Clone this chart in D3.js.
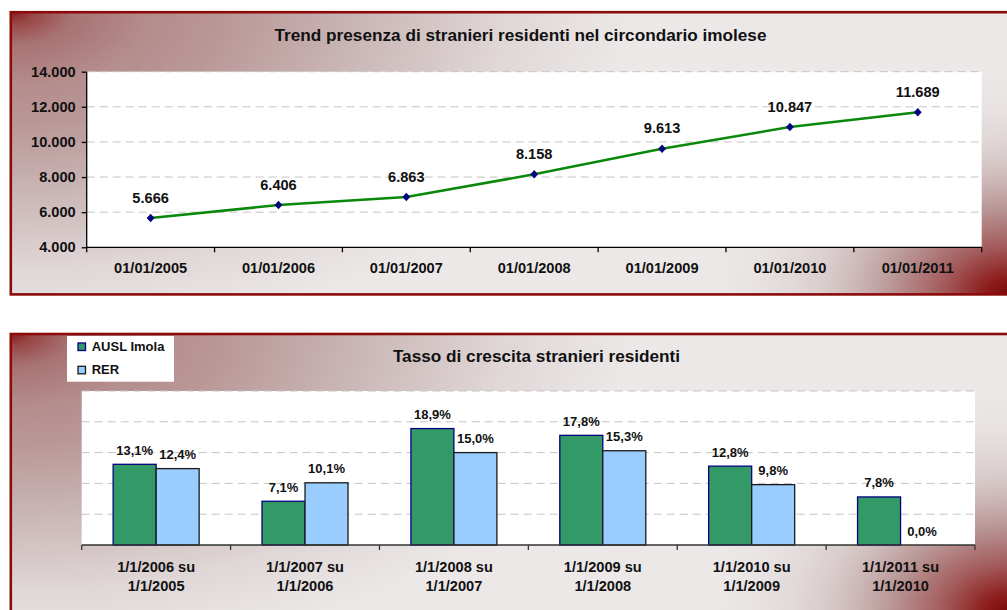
<!DOCTYPE html>
<html>
<head>
<meta charset="utf-8">
<script src="https://cdn.jsdelivr.net/npm/d3@7"></script>
<style>
  html, body { margin: 0; padding: 0; background: #ffffff; }
  svg { display: block; }
  text { font-family: "Liberation Sans", Arial, sans-serif; font-weight: bold; fill: #111; }
</style>
</head>
<body>
<script>
// ---- Data ----
const dates = ["01/01/2005", "01/01/2006", "01/01/2007", "01/01/2008", "01/01/2009", "01/01/2010", "01/01/2011"];
const residents = [5666, 6406, 6863, 8158, 9613, 10847, 11689];
const residentTicks = [4000, 6000, 8000, 10000, 12000, 14000];

const periods = [
  ["1/1/2006 su", "1/1/2005"],
  ["1/1/2007 su", "1/1/2006"],
  ["1/1/2008 su", "1/1/2007"],
  ["1/1/2009 su", "1/1/2008"],
  ["1/1/2010 su", "1/1/2009"],
  ["1/1/2011 su", "1/1/2010"]
];
const seriesNames = ["AUSL Imola", "RER"];
const auslImola = [13.1, 7.1, 18.9, 17.8, 12.8, 7.8];
const rer = [12.4, 10.1, 15.0, 15.3, 9.8, 0.0];
const rateTicks = [0, 5, 10, 15, 20, 25];

const trendTitle = "Trend presenza di stranieri residenti nel circondario imolese";
const rateTitle = "Tasso di crescita stranieri residenti";

// ---- Helpers ----
const it = d3.formatLocale({ decimal: ",", thousands: ".", grouping: [3], currency: ["", "€"] });
const fmtInt = it.format(",d");
const fmtPct = v => it.format(".1f")(v) + "%";

const W = 1007, H = 610;
const svg = d3.select("body").append("svg").attr("width", W).attr("height", H);
const defs = svg.append("defs");

// Panel background: dark red in the corners fading into a pale grey-pink
function panelBackground(id, x, y, w, h, brCx, brCy) {
  const tl = defs.append("radialGradient").attr("id", id + "-tl")
    .attr("gradientUnits", "userSpaceOnUse")
    .attr("cx", x).attr("cy", y).attr("r", 620)
    .attr("gradientTransform", `translate(${x},${y}) scale(1,0.52) translate(${-x},${-y})`);
  [[0, "#8a1c1c"], [0.035, "#984646"], [0.1, "#a87272"], [0.22, "#b48c8c"], [0.35, "#ba9898"],
   [0.55, "#c9b4b4"], [0.8, "#e0d7d7"], [1, "#ece8e8"]]
    .forEach(([o, c]) => tl.append("stop").attr("offset", o).attr("stop-color", c));

  const br = defs.append("radialGradient").attr("id", id + "-br")
    .attr("gradientUnits", "userSpaceOnUse")
    .attr("cx", brCx).attr("cy", brCy).attr("r", 300)
    .attr("gradientTransform", `translate(${brCx},${brCy}) scale(1,0.75) translate(${-brCx},${-brCy})`);
  [[0, "#7a0606", 1], [0.08, "#8c1c1c", 1], [0.22, "#a35a5a", 1], [0.4, "#b89494", 0.95],
   [0.62, "#cdbaba", 0.6], [1, "#e6e0e0", 0]]
    .forEach(([o, c, a]) => br.append("stop").attr("offset", o).attr("stop-color", c).attr("stop-opacity", a));

  const g = svg.append("g");
  g.append("rect").attr("x", x).attr("y", y).attr("width", w).attr("height", h)
    .attr("fill", `url(#${id}-tl)`);
  g.append("rect").attr("x", x).attr("y", y).attr("width", w).attr("height", h)
    .attr("fill", `url(#${id}-br)`);
  g.append("rect").attr("x", x).attr("y", y).attr("width", w).attr("height", h)
    .attr("fill", "none").attr("stroke", "#8b0a0a").attr("stroke-width", 2.6);
  return g;
}

// ================= Line chart: residents =================
panelBackground("p1", 10.8, 12.2, 1010, 282.2, 1009, 296);

const p1 = { left: 86.7, right: 981.7, top: 71.7, bottom: 247.3 };
const x1 = d3.scaleBand().domain(dates).range([p1.left, p1.right]);
const y1 = d3.scaleLinear().domain([4000, 14000]).range([p1.bottom, p1.top]);

const g1 = svg.append("g");
g1.append("rect").attr("x", p1.left).attr("y", p1.top)
  .attr("width", p1.right - p1.left).attr("height", p1.bottom - p1.top).attr("fill", "#fff");

// dashed gridlines
g1.selectAll("line.grid").data(residentTicks.filter(t => t > 4000)).join("line")
  .attr("x1", p1.left).attr("x2", p1.right)
  .attr("y1", d => y1(d)).attr("y2", d => y1(d))
  .attr("stroke", "#c4c4c4").attr("stroke-width", 1).attr("stroke-dasharray", "8,5");

// y axis
const yAxis1 = g1.append("g").attr("transform", `translate(${p1.left},0)`)
  .call(d3.axisLeft(y1).tickValues(residentTicks).tickFormat(fmtInt).tickSize(5).tickPadding(6));
yAxis1.select(".domain").attr("stroke", "#000").attr("stroke-width", 1.3).attr("d", `M0,${p1.top}V${p1.bottom}`);
yAxis1.selectAll(".tick line").attr("stroke", "#000").attr("stroke-width", 1.3);
yAxis1.selectAll(".tick text").attr("font-size", 14.6).attr("fill", "#111");

// x axis: labels at category centres, tick marks on category boundaries
const xAxis1 = g1.append("g").attr("transform", `translate(0,${p1.bottom})`);
xAxis1.append("line").attr("x1", p1.left).attr("x2", p1.right).attr("stroke", "#000").attr("stroke-width", 1.3);
xAxis1.selectAll("line.tk").data([...dates.map(d => x1(d)), p1.right]).join("line")
  .attr("x1", d => d).attr("x2", d => d).attr("y1", 0).attr("y2", 5)
  .attr("stroke", "#000").attr("stroke-width", 1.3);
xAxis1.selectAll("text").data(dates).join("text")
  .attr("x", d => x1(d) + x1.bandwidth() / 2).attr("y", 26.2)
  .attr("text-anchor", "middle").attr("font-size", 14.6).text(d => d);

// line + markers
const pts = dates.map((d, i) => [x1(d) + x1.bandwidth() / 2, y1(residents[i])]);
g1.append("path").datum(pts).attr("d", d3.line())
  .attr("fill", "none").attr("stroke", "#0a880a").attr("stroke-width", 2.6);
g1.selectAll("path.mk").data(pts).join("path")
  .attr("transform", d => `translate(${d[0]},${d[1]})`)
  .attr("d", "M0,-4.3L3.9,0L0,4.3L-3.9,0Z").attr("fill", "#000080");
g1.selectAll("text.val").data(residents).join("text")
  .attr("x", (d, i) => pts[i][0]).attr("y", (d, i) => pts[i][1] - 15.5)
  .attr("text-anchor", "middle").attr("font-size", 14.6).text(d => fmtInt(d));

g1.append("text").attr("x", 520.5).attr("y", 40.6).attr("text-anchor", "middle")
  .attr("font-size", 17.2).text(trendTitle);

// ================= Bar chart: growth rate =================
panelBackground("p2", 10.8, 334, 1010, 300, 1009, 614);

const p2 = { left: 81.7, right: 975, top: 391, bottom: 545 };
const x2 = d3.scaleBand().domain(d3.range(periods.length)).range([p2.left, p2.right]);
const groupPad = (x2.bandwidth() - 86) / 2;
const xs = d3.scaleBand().domain(seriesNames).range([groupPad, x2.bandwidth() - groupPad]);
const y2 = d3.scaleLinear().domain([0, 25]).range([p2.bottom, p2.top]);
const colors = { "AUSL Imola": "#339966", "RER": "#99ccff" };
const strokes = { "AUSL Imola": "#000080", "RER": "#1a1a1a" };

const g2 = svg.append("g");
g2.append("rect").attr("x", p2.left).attr("y", p2.top)
  .attr("width", p2.right - p2.left).attr("height", p2.bottom - p2.top).attr("fill", "#fff");

g2.selectAll("line.grid").data(rateTicks.filter(t => t > 0)).join("line")
  .attr("x1", p2.left).attr("x2", p2.right)
  .attr("y1", d => y2(d)).attr("y2", d => y2(d))
  .attr("stroke", "#c4c4c4").attr("stroke-width", 1).attr("stroke-dasharray", "8,5");

const rows = periods.map((p, i) => ({ i, values: [auslImola[i], rer[i]] }));
const groups = g2.selectAll("g.grp").data(rows).join("g")
  .attr("transform", d => `translate(${x2(d.i)},0)`);
groups.selectAll("rect").data(d => seriesNames.map((s, k) => ({ s, v: d.values[k] }))).join("rect")
  .attr("x", d => xs(d.s)).attr("width", xs.bandwidth())
  .attr("y", d => y2(d.v)).attr("height", d => p2.bottom - y2(d.v))
  .attr("fill", d => colors[d.s]).attr("stroke", d => strokes[d.s]).attr("stroke-width", 1.3)
  .attr("visibility", d => d.v > 0 ? "visible" : "hidden");
groups.selectAll("text").data(d => seriesNames.map((s, k) => ({ s, v: d.values[k] }))).join("text")
  .attr("x", d => xs(d.s) + xs.bandwidth() / 2).attr("y", d => y2(d.v) - 9.5)
  .attr("text-anchor", "middle").attr("font-size", 13).text(d => fmtPct(d.v));

// x axis
const xAxis2 = g2.append("g").attr("transform", `translate(0,${p2.bottom})`);
xAxis2.append("line").attr("x1", p2.left).attr("x2", p2.right).attr("stroke", "#333").attr("stroke-width", 1.6);
xAxis2.selectAll("line.tk").data([...periods.map((p, i) => x2(i)), p2.right]).join("line")
  .attr("x1", d => d).attr("x2", d => d).attr("y1", 0).attr("y2", 5)
  .attr("stroke", "#333").attr("stroke-width", 1.3);
const lbl = xAxis2.selectAll("text").data(periods).join("text")
  .attr("text-anchor", "middle").attr("font-size", 14.6);
lbl.selectAll("tspan").data((d, i) => d.map(line => ({ line, i }))).join("tspan")
  .attr("x", d => x2(d.i) + x2.bandwidth() / 2)
  .attr("y", (d, k) => 26.7 + k * 19)
  .text(d => d.line);

g2.append("text").attr("x", 536.5).attr("y", 362.3).attr("text-anchor", "middle")
  .attr("font-size", 17.2).text(rateTitle);

// legend
const lg = g2.append("g");
lg.append("rect").attr("x", 67).attr("y", 336).attr("width", 107).attr("height", 45.7).attr("fill", "#fff");
seriesNames.forEach((s, k) => {
  lg.append("rect").attr("x", 78).attr("y", 343 + k * 23.3).attr("width", 7.5).attr("height", 7.5)
    .attr("fill", colors[s]).attr("stroke", strokes[s]).attr("stroke-width", 1.3);
  lg.append("text").attr("x", 91.7).attr("y", 350.8 + k * 23.3).attr("font-size", 13).text(s);
});
</script>
</body>
</html>
